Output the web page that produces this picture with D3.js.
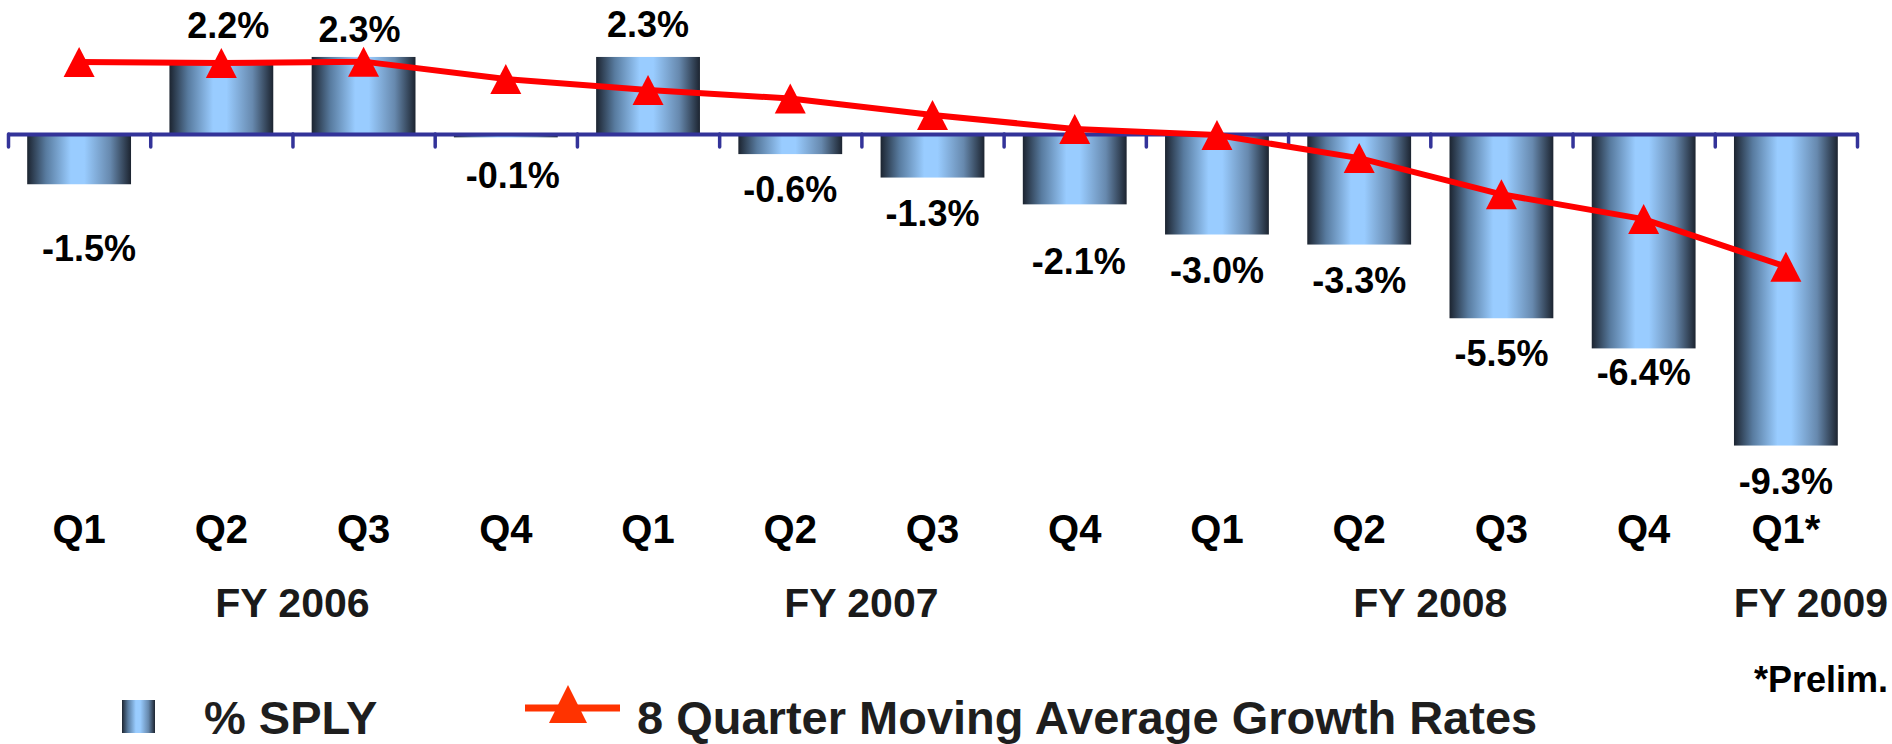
<!DOCTYPE html>
<html>
<head>
<meta charset="utf-8">
<script src="https://cdn.jsdelivr.net/npm/d3@7/dist/d3.min.js"></script>
<style>
  body { margin: 0; background: #fff; }
  text { font-family: "Liberation Sans", Arial, sans-serif; font-weight: bold; }
</style>
</head>
<body>
<div class="chart"></div>
<script>
// Data
var quarters = ["Q1", "Q2", "Q3", "Q4", "Q1", "Q2", "Q3", "Q4", "Q1", "Q2", "Q3", "Q4", "Q1*"];
var yearLabels = ["FY 2006", "FY 2007", "FY 2008", "FY 2009"];
var quarterYear = [0, 0, 0, 0, 1, 1, 1, 1, 2, 2, 2, 2, 3];
var splyGrowth = [-1.5, 2.2, 2.3, -0.1, 2.3, -0.6, -1.3, -2.1, -3.0, -3.3, -5.5, -6.4, -9.3];
var movingAverage = [2.15, 2.12, 2.16, 1.64, 1.31, 1.06, 0.57, 0.15, -0.03, -0.72, -1.80, -2.54, -3.96];
var legendNames = ["% SPLY", "8 Quarter Moving Average Growth Rates"];
var footnote = "*Prelim.";

var svgWidth = 1892;
var svgHeight = 744;

// hand-placed label tweaks from the original slide [dx, dy]
var labelNudge = { 0: [10, 29], 1: [7, -2], 2: [-4, 5], 3: [7, 3], 7: [4, 22], 11: [0, -11] };
var yearNudge = { 3: [25, 0] };

var svg = d3.select(".chart")
  .append("svg")
  .attr("width", svgWidth)
  .attr("height", svgHeight)
  .style("background-color", "#fff");

// bar gradient (dark edges, light blue middle)
var defs = svg.append("defs");
var grad = defs.append("linearGradient")
  .attr("id", "barGrad")
  .attr("x1", "0%").attr("x2", "100%")
  .attr("y1", "0%").attr("y2", "0%");
[[0, "#1c2430"], [0.18, "#587b9f"], [0.42, "#99ccff"], [0.55, "#99ccff"], [0.8, "#6789ae"], [1, "#1c2430"]]
  .forEach(function (s) {
    grad.append("stop").attr("offset", s[0]).attr("stop-color", s[1]);
  });

// Scales
var idx = d3.range(quarters.length);
var xBand = d3.scaleBand()
  .domain(idx)
  .range([8, 1857])
  .paddingInner(0.27)
  .paddingOuter(0.135);

var xEdge = d3.scaleLinear()
  .domain([0, quarters.length])
  .range([8, 1857]);

var yScale = d3.scaleLinear()
  .domain([-10, 3])
  .range([469, 33.5]);

var cx = function (i) { return xBand(i) + xBand.bandwidth() / 2; };

// Bars
svg.append("g").selectAll("rect")
  .data(splyGrowth)
  .enter()
  .append("rect")
  .attr("x", (d, i) => xBand(i))
  .attr("width", xBand.bandwidth())
  .attr("y", d => Math.min(yScale(d), yScale(0)))
  .attr("height", d => Math.abs(yScale(d) - yScale(0)))
  .attr("fill", "url(#barGrad)");

// Category axis at zero, ticks on band edges
var axis = d3.axisBottom(xEdge)
  .tickValues(d3.range(quarters.length + 1))
  .tickSize(13)
  .tickSizeOuter(0)
  .tickFormat("");

var axisG = svg.append("g")
  .attr("transform", `translate(0, ${yScale(0)})`)
  .call(axis);
axisG.select(".domain")
  .attr("stroke", "#333399")
  .attr("stroke-width", 4);
axisG.selectAll(".tick line")
  .attr("stroke", "#333399")
  .attr("stroke-width", 3.5)
  .attr("stroke-linecap", "round");

// Moving average line
var line = d3.line()
  .x((d, i) => cx(i))
  .y(d => yScale(d));

svg.append("path")
  .datum(movingAverage)
  .attr("d", line)
  .attr("fill", "none")
  .attr("stroke", "#ff0000")
  .attr("stroke-width", 6)
  .attr("stroke-linejoin", "round");

var tri = "M0,-15L15.5,15L-15.5,15Z";
svg.append("g").selectAll("path")
  .data(movingAverage)
  .enter()
  .append("path")
  .attr("d", tri)
  .attr("transform", (d, i) => `translate(${cx(i)}, ${yScale(d)})`)
  .attr("fill", "#ff0000");

// Value labels
svg.append("g").selectAll("text")
  .data(splyGrowth)
  .enter()
  .append("text")
  .attr("x", (d, i) => cx(i) + (labelNudge[i] ? labelNudge[i][0] : 0))
  .attr("y", function (d, i) {
    var base = d >= 0 ? yScale(d) - 20 : yScale(d) + 48;
    return base + (labelNudge[i] ? labelNudge[i][1] : 0);
  })
  .attr("text-anchor", "middle")
  .attr("font-size", "36px")
  .attr("fill", "#000")
  .text(d => d.toFixed(1) + "%");

// Quarter labels
svg.append("g").selectAll("text")
  .data(quarters)
  .enter()
  .append("text")
  .attr("x", (d, i) => cx(i))
  .attr("y", 543)
  .attr("text-anchor", "middle")
  .attr("font-size", "40px")
  .attr("fill", "#000")
  .text(d => d);

// Fiscal year labels, centred under their quarters
svg.append("g").selectAll("text")
  .data(yearLabels)
  .enter()
  .append("text")
  .attr("x", function (d, k) {
    var qs = idx.filter(i => quarterYear[i] === k);
    return d3.mean(qs, cx) + (yearNudge[k] ? yearNudge[k][0] : 0);
  })
  .attr("y", 617)
  .attr("text-anchor", "middle")
  .attr("font-size", "41px")
  .attr("fill", "#1a1a1a")
  .text(d => d);

svg.append("text")
  .attr("x", 1888)
  .attr("y", 692)
  .attr("text-anchor", "end")
  .attr("font-size", "36px")
  .attr("fill", "#000")
  .text(footnote);

// Legend
var legend = svg.append("g");
legend.append("rect")
  .attr("x", 122).attr("y", 700)
  .attr("width", 33).attr("height", 33)
  .attr("fill", "url(#barGrad)");
legend.append("text")
  .attr("x", 204).attr("y", 734)
  .attr("font-size", "47px")
  .attr("fill", "#1e1e1e")
  .text(legendNames[0]);

legend.append("line")
  .attr("x1", 525).attr("x2", 620)
  .attr("y1", 708).attr("y2", 708)
  .attr("stroke", "#ff3300")
  .attr("stroke-width", 7);
legend.append("path")
  .attr("d", "M0,-19L19,19L-19,19Z")
  .attr("transform", "translate(568, 704)")
  .attr("fill", "#ff3300");
legend.append("text")
  .attr("x", 637).attr("y", 734)
  .attr("font-size", "47px")
  .attr("fill", "#1e1e1e")
  .text(legendNames[1]);
</script>
</body>
</html>
